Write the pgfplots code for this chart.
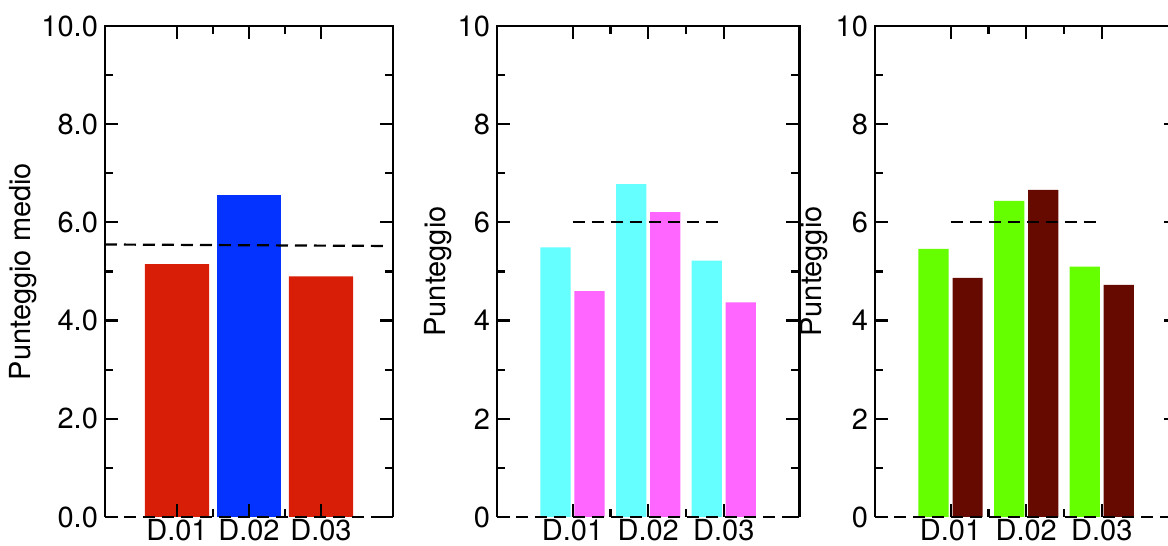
\documentclass[border=0pt]{standalone}
\usepackage{pgfplots}
\pgfplotsset{compat=1.18}
\usepackage{fontspec}
\setmainfont{TeX Gyre Heros}
\definecolor{cred}{RGB}{216,30,6}
\definecolor{cblue}{RGB}{4,50,255}
\definecolor{ccyan}{RGB}{102,255,255}
\definecolor{cmag}{RGB}{255,102,255}
\definecolor{cgreen}{RGB}{102,255,0}
\definecolor{cbrown}{RGB}{102,10,0}
\tikzset{myframe/.style={line width=1.2pt, black}}
\newcommand{\lblfont}{\fontsize{14.5}{17}\selectfont}
\pgfplotsset{
  mypanel/.style={
    ymin=0, ymax=10, xmin=0, xmax=4,
    y=24.55pt,
    clip=false,
    axis on top,
    axis line style={draw=none},
    xtick={1,2,3},
    xticklabels={D.01,D.02,D.03},
    minor x tick num=1,
    ytick={0,2,4,6,8,10},
    minor y tick num=1,
    major tick length=6.5pt,
    minor tick length=4pt,
    every tick/.style={black, line width=1.1pt},
    every minor tick/.style={black, line width=1.1pt},
    tick align=inside,
    /pgf/number format/assume math mode=true,
    tick label style={font=\lblfont},
    xticklabel style={yshift=2.5pt},
    anchor=south west,
  },
}
\begin{document}
\begin{tikzpicture}
% Panel 1
\begin{axis}[mypanel, at={(52.5pt,14.5pt)}, x=36pt,
  yticklabel style={/pgf/number format/.cd, fixed, fixed zerofill, precision=1},
  ylabel={Punteggio medio},
  every axis y label/.style={at={(rel axis cs:0,0.5)}, xshift=-41pt, rotate=90, anchor=center, font=\lblfont}]
\addplot[ybar, bar width=0.89, bar shift=0pt, fill=cred, draw=none] coordinates {(1,5.15) (3,4.90)};
\addplot[ybar, bar width=0.89, bar shift=0pt, fill=cblue, draw=none] coordinates {(2,6.56)};
\addplot[black, line width=1.1pt, dash pattern=on 6pt off 3.5pt] coordinates {(0,5.55) (3.9,5.52)};
\draw[myframe] (rel axis cs:0,0) -- (rel axis cs:0,1) -- (rel axis cs:1,1) -- (rel axis cs:1,0);
\draw[myframe, dash pattern=on 6pt off 3.5pt] (rel axis cs:0,0) -- (rel axis cs:1,0);
\end{axis}
% Panel 2
\begin{axis}[mypanel, at={(248.5pt,14.5pt)}, x=37.8pt,
  ylabel={Punteggio},
  every axis y label/.style={at={(rel axis cs:0,0.5)}, xshift=-29.5pt, rotate=90, anchor=center, font=\lblfont}]
\addplot[ybar, bar width=0.4, bar shift=-0.225, fill=ccyan, draw=none] coordinates {(1,5.49) (2,6.78) (3,5.22)};
\addplot[ybar, bar width=0.4, bar shift=0.225, fill=cmag, draw=none] coordinates {(1,4.60) (2,6.21) (3,4.37)};
\addplot[black, line width=1.1pt, dash pattern=on 6pt off 3.5pt] coordinates {(1,6) (3,6)};
\draw[myframe] (rel axis cs:0,0) -- (rel axis cs:0,1) -- (rel axis cs:1,1) -- (rel axis cs:1,0);
\draw[myframe, dash pattern=on 6pt off 3.5pt] (rel axis cs:0,0) -- (rel axis cs:1,0);
\end{axis}
% Panel 3
\begin{axis}[mypanel, at={(437.5pt,14.5pt)}, x=37.8pt,
  ylabel={Punteggio},
  every axis y label/.style={at={(rel axis cs:0,0.5)}, xshift=-30.5pt, rotate=90, anchor=center, font=\lblfont}]
\addplot[ybar, bar width=0.4, bar shift=-0.225, fill=cgreen, draw=none] coordinates {(1,5.46) (2,6.44) (3,5.10)};
\addplot[ybar, bar width=0.4, bar shift=0.225, fill=cbrown, draw=none] coordinates {(1,4.87) (2,6.66) (3,4.73)};
\addplot[black, line width=1.1pt, dash pattern=on 6pt off 3.5pt] coordinates {(1,6) (3,6)};
\draw[myframe] (rel axis cs:0,0) -- (rel axis cs:0,1) -- (rel axis cs:1,1) -- (rel axis cs:1,0);
\draw[myframe, dash pattern=on 6pt off 3.5pt] (rel axis cs:0,0) -- (rel axis cs:1,0);
\end{axis}
\pgfresetboundingbox
\useasboundingbox (0,0) rectangle (584pt,273pt);
\end{tikzpicture}
\end{document}
